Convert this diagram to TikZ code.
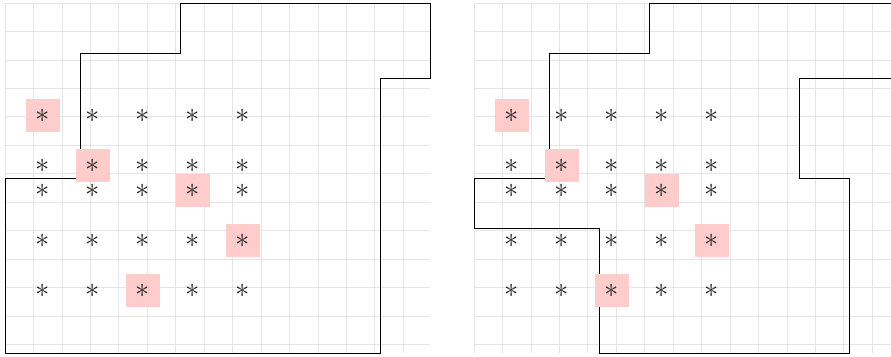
\documentclass[tikz,border=0pt]{standalone}
\begin{document}
\begin{tikzpicture}[x=1pt,y=-1pt,
  gridline/.style={draw=black!10, line width=0.8pt},
  outline/.style={draw=black, line width=0.9pt},
  hlbox/.style={fill=red!20, draw=none, minimum width=34pt, minimum height=33pt, inner sep=0pt},
  star/.style={inner sep=0pt, scale=2.85, text=black!85}]
\useasboundingbox (0,0) rectangle (891,356);
\clip (0,0) rectangle (891,356);
% ---------- left panel ----------
\begin{scope}[shift={(5pt,-3pt)}, x=25pt, y=-25pt]
  \draw[gridline] (0,0) grid (17,14);
  \draw[outline] (0,7) -| (3,2) -| (7,0) -| (17,3) -| (15,14) -- (0,14) -- cycle;
  \foreach \c/\r [count=\k] in {1.5/4.5, 3.5/6.5, 7.5/7.5, 9.5/9.5, 5.5/11.5}
    \node[hlbox] (Lh\k) at (\c,\r) {};
  \foreach \c [count=\i] in {1.5,3.5,5.5,7.5,9.5}
    \foreach \r [count=\j] in {4.5,6.5,7.5,9.5,11.5}
      \node[star] (Ls\i\j) at (\c,\r) {$\ast$};
\end{scope}
% ---------- right panel ----------
\begin{scope}[shift={(474pt,-3pt)}, x=25pt, y=-25pt]
  \draw[gridline] (0,0) grid (17,14);
  \draw[outline] (0,7) -| (3,2) -| (7,0) -| (17,3) -| (13,7) -| (15,14) -| (5,9) -- (0,9) -- cycle;
  \foreach \c/\r [count=\k] in {1.5/4.5, 3.5/6.5, 7.5/7.5, 9.5/9.5, 5.5/11.5}
    \node[hlbox] (Rh\k) at (\c,\r) {};
  \foreach \c [count=\i] in {1.5,3.5,5.5,7.5,9.5}
    \foreach \r [count=\j] in {4.5,6.5,7.5,9.5,11.5}
      \node[star] (Rs\i\j) at (\c,\r) {$\ast$};
\end{scope}
\end{tikzpicture}
\end{document}
